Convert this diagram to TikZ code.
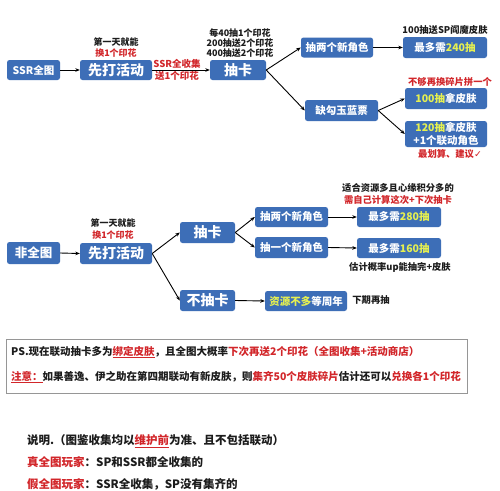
\documentclass[tikz,border=0pt]{standalone}
\usepackage{fontspec}
\setmainfont{Noto Sans CJK SC}
\newfontfamily\dejavu{DejaVu Sans}
\usetikzlibrary{arrows.meta}
\definecolor{boxblue}{RGB}{61,110,183}
\definecolor{hired}{RGB}{210,38,42}
\definecolor{hiyel}{RGB}{230,240,80}
\definecolor{txt}{RGB}{28,28,28}
\definecolor{psgray}{RGB}{150,150,150}
\newcommand{\fs}[1]{\fontsize{#1}{#1}\selectfont}
\newcommand{\rd}[1]{\textcolor{hired}{#1}}
\newcommand{\yl}[1]{\textcolor{hiyel}{#1}}
\tikzset{
 bluebox/.style={fill=boxblue, rounded corners=2.5pt, text=white, inner sep=0pt, align=center},
 lbl/.style={text=txt, inner sep=0pt, align=center},
 arr/.style={-{Stealth[length=4.5pt,width=3.6pt]}, line width=0.9pt, black},
}
\begin{document}
\begin{tikzpicture}[x=1pt,y=-1pt]
\useasboundingbox (0,0) rectangle (500,490);
\fill[white] (0,0) rectangle (500,490);

% ---------- top section ----------
\node[bluebox, minimum width=53pt, minimum height=20pt, font=\bfseries\fs{10.5}] (ssr) at (33.5,70) {SSR全图};
\node[bluebox, minimum width=72pt, minimum height=20pt, font=\bfseries\fs{14}] (act1) at (116,70) {先打活动};
\node[bluebox, minimum width=56pt, minimum height=20pt, font=\bfseries\fs{14}] (draw1) at (238,70) {抽卡};
\node[bluebox, minimum width=72pt, minimum height=20pt, font=\bfseries\fs{10.5}] (two1) at (337,47.5) {抽两个新角色};
\node[bluebox, minimum width=84pt, minimum height=21pt, font=\bfseries\fs{10.5}] (m240) at (445,47.5) {最多需\yl{240抽}};
\node[bluebox, minimum width=73pt, minimum height=21pt, font=\bfseries\fs{10.5}] (lack) at (341.5,110.5) {缺勾玉蓝票};
\node[bluebox, minimum width=82pt, minimum height=21pt, font=\bfseries\fs{10.5}] (s100) at (446,98.5) {\yl{100抽}拿皮肤};
\node[bluebox, minimum width=82pt, minimum height=26pt, font=\bfseries\fontsize{10.5}{13.5}\selectfont] (s120) at (446,134) {\yl{120抽}拿皮肤\\+1个联动角色};

\node[lbl, font=\bfseries\fontsize{9}{11.5}\selectfont] (l1) at (116,47.5) {第一天就能\\\rd{换1个印花}};
\node[lbl, font=\bfseries\fontsize{9}{10}\selectfont] (l2) at (240,43) {每40抽1个印花\\200抽送2个印花\\400抽送2个印花};
\node[lbl, font=\bfseries\fs{9.5}, text=hired] (l3) at (177,63.5) {SSR全收集};
\node[lbl, font=\bfseries\fs{9.5}, text=hired] (l4) at (177,76) {送1个印花};
\node[lbl, font=\bfseries\fs{9.3}] (l5) at (445,29.5) {100抽送SP阎魔皮肤};
\node[lbl, font=\bfseries\fs{9.3}, text=hired] (l6) at (450,82) {不够再换碎片拼一个};
\node[lbl, font=\bfseries\fs{9.3}, text=hired] (l7) at (450,154) {最划算、建议{\dejavu ✓}};

\draw[arr] (ssr.east) -- (act1.west);
\draw[arr] (act1.east) -- (draw1.west);
\draw[arr] (draw1.east) -- (two1.west);
\draw[arr] (draw1.east) -- (lack.west);
\draw[arr] (two1.east) -- (m240.west);
\draw[arr] (lack.east) -- (s100.west);
\draw[arr] (lack.east) -- (s120.west);

% ---------- middle section ----------
\node[bluebox, minimum width=53pt, minimum height=22pt, font=\bfseries\fs{12.5}] (non) at (33.5,253) {非全图};
\node[bluebox, minimum width=72pt, minimum height=21pt, font=\bfseries\fs{14}] (act2) at (116,253.5) {先打活动};
\node[bluebox, minimum width=55pt, minimum height=21pt, font=\bfseries\fs{14}] (draw2) at (207.5,232.5) {抽卡};
\node[bluebox, minimum width=55pt, minimum height=21pt, font=\bfseries\fs{14}] (nodraw) at (207.5,300.5) {不抽卡};
\node[bluebox, minimum width=73pt, minimum height=20pt, font=\bfseries\fs{10.5}] (two2) at (291.5,217) {抽两个新角色};
\node[bluebox, minimum width=73pt, minimum height=21pt, font=\bfseries\fs{10.5}] (one2) at (291.5,247.5) {抽一个新角色};
\node[bluebox, minimum width=84pt, minimum height=20pt, font=\bfseries\fs{10.5}] (m280) at (399,217) {最多需\yl{280抽}};
\node[bluebox, minimum width=84pt, minimum height=20pt, font=\bfseries\fs{10.5}] (m160) at (399,248) {最多需\yl{160抽}};
\node[bluebox, minimum width=82pt, minimum height=20pt, font=\bfseries\fs{10.5}] (wait) at (306,301) {\yl{资源不多}等周年};

\node[lbl, font=\bfseries\fontsize{9}{12}\selectfont] (l8) at (113,229) {第一天就能\\\rd{换1个印花}};
\node[lbl, font=\bfseries\fontsize{9.3}{12}\selectfont] (l9) at (398,194) {适合资源多且心缘积分多的\\\rd{需自己计算这次+下次抽卡}};
\node[lbl, font=\bfseries\fs{9.3}] (l10) at (400,267) {估计概率up能抽完+皮肤};
\node[lbl, font=\bfseries\fs{9.3}] (l11) at (371,300) {下期再抽};

\draw[arr] (non.east) -- (act2.west);
\draw[arr] (act2.east) -- (draw2.west);
\draw[arr] (act2.east) -- (nodraw.west);
\draw[arr] (draw2.east) -- (two2.west);
\draw[arr] (draw2.east) -- (one2.west);
\draw[arr] (two2.east) -- (m280.west);
\draw[arr] (one2.east) -- (m160.west);
\draw[arr] (nodraw.east) -- (wait.west);

% ---------- PS box ----------
\node[draw=psgray, line width=1pt, minimum width=461pt, minimum height=54pt, inner sep=0pt] (psbox) at (236.5,366) {};
\node[lbl, anchor=west, font=\bfseries\fs{10.5}] (ps1) at (11,352) {PS.现在联动抽卡多为\rd{\underline{绑定皮肤}}，且全图大概率\rd{下次再送2个印花（全图收集+活动商店）}};
\node[lbl, anchor=west, font=\bfseries\fs{10.5}] (ps2) at (11,377) {\rd{\underline{注意：}}如果善逸、伊之助在第四期联动有新皮肤，则\rd{集齐50个皮肤碎片}估计还可以\rd{兑换各1个印花}};

% ---------- bottom notes ----------
\node[lbl, anchor=west, font=\bfseries\fs{11.5}] (n1) at (27,441) {说明.（图鉴收集均以\rd{\underline{维护前}}为准、且不包括联动）};
\node[lbl, anchor=west, font=\bfseries\fs{11.5}] (n2) at (27,462) {\rd{真全图玩家}：SP和SSR都全收集的};
\node[lbl, anchor=west, font=\bfseries\fs{11.5}] (n3) at (27,484) {\rd{假全图玩家}：SSR全收集，SP没有集齐的};
\end{tikzpicture}
\end{document}
